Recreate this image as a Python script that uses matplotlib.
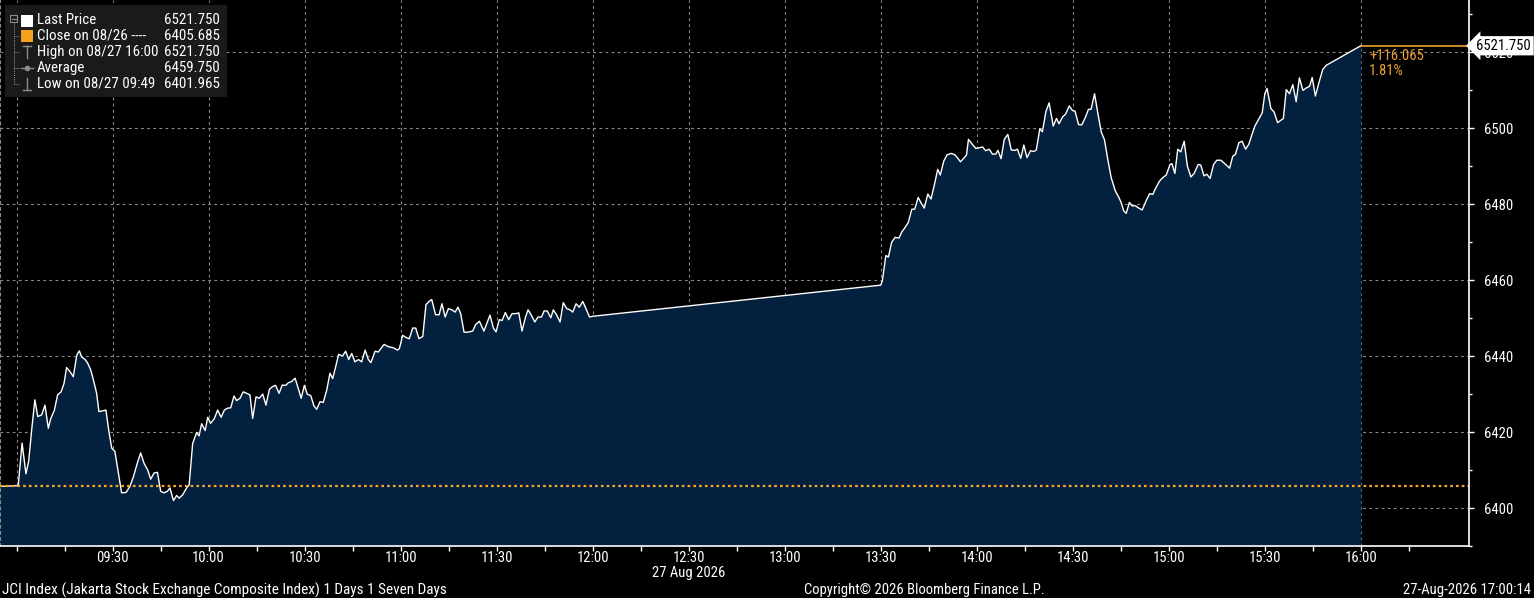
import matplotlib
matplotlib.use("Agg")
import numpy as np
import matplotlib.pyplot as plt
from matplotlib.transforms import blended_transform_factory
from matplotlib.patches import Rectangle

# JCI intraday, minutes after 09:00 and index level
morning_min = [-6, 0.5, 1.7, 2.9, 3.75, 4.7, 5.7, 6.6, 7.8, 8.85, 9.9, 10.6, 11.8, 12.8, 13.9,
               14.8, 15.6, 16.7, 17.7, 18.8, 19.6, 20.3, 21.4, 22.1, 23.1, 24.0, 25.0, 25.7,
               26.9, 27.9, 28.75, 29.7, 30.7, 31.8, 32.8, 34.2, 35.4, 36.5, 37.7, 38.75, 39.8,
               40.9, 41.9, 42.9, 44.0, 45.0, 46.0, 47.1, 47.9, 49.0, 50.0, 50.8, 51.9, 53.1,
               53.9, 55.0, 56.25, 57.0, 57.8, 58.9, 59.7, 60.6, 61.8, 62.8, 63.9, 64.9, 65.9,
               66.9, 67.9, 68.75, 69.8, 70.8, 71.9, 72.9, 73.75, 74.8, 75.8, 76.9, 77.9, 79.0,
               80.0, 80.9, 82.0, 83.0, 84.1, 84.9, 85.9, 87.0, 88.0, 88.9, 89.9, 90.8, 91.9,
               92.9, 93.75, 94.8, 95.8, 96.9, 97.9, 98.75, 99.8, 100.6, 101.8, 102.8, 103.75,
               104.7, 105.7, 106.8, 107.8, 108.9, 109.9, 110.7, 112.0, 113.0, 114.8, 116.1,
               117.7, 119.0, 119.6, 120.6, 121.7, 122.7, 123.75, 124.7, 125.7, 126.9, 127.9,
               129.0, 129.7, 130.9, 132.0, 132.9, 133.9, 134.9, 136.0, 137.0, 137.9, 138.75,
               139.8, 140.8, 142.5, 143.4, 144.6, 146.0, 146.9, 147.9, 149.0, 149.8, 150.8,
               151.7, 152.7, 153.75, 154.8, 156.0, 156.9, 157.9, 159.0, 159.8, 160.8, 161.9,
               162.9, 164.0, 164.8, 165.8, 166.9, 167.7, 168.75, 169.8, 170.8, 171.9, 172.9,
               173.75, 174.8, 175.8, 176.9, 177.9, 179.0, 180.0]
morning_px = [6405.685, 6405.9, 6417.1, 6409.0, 6412.3, 6420.6, 6428.5, 6424.1, 6424.5, 6427.1,
              6421.0, 6423.4, 6425.8, 6429.8, 6430.6, 6432.8, 6437.0, 6435.9, 6434.6, 6440.3,
              6441.4, 6439.8, 6439.1, 6438.3, 6436.5, 6433.7, 6430.2, 6425.4, 6425.6, 6425.8,
              6420.6, 6415.8, 6414.9, 6409.2, 6404.0, 6404.1, 6405.7, 6408.3, 6411.8, 6414.5,
              6411.8, 6410.1, 6407.6, 6409.2, 6409.4, 6404.4, 6404.0, 6404.4, 6405.3, 6401.965,
              6403.3, 6402.6, 6403.5, 6405.3, 6406.1, 6417.0, 6419.9, 6419.0, 6422.2, 6420.4,
              6423.9, 6422.3, 6423.6, 6425.8, 6423.9, 6425.8, 6426.3, 6426.4, 6429.5, 6428.3,
              6428.9, 6430.6, 6430.2, 6429.8, 6423.6, 6429.3, 6428.9, 6430.0, 6427.1, 6431.3,
              6432.0, 6432.3, 6430.2, 6432.4, 6432.3, 6433.0, 6433.3, 6434.2, 6431.5, 6428.9,
              6432.3, 6430.0, 6429.6, 6426.9, 6426.0, 6428.0, 6427.8, 6431.1, 6435.5, 6434.1,
              6437.6, 6440.5, 6440.0, 6441.3, 6439.1, 6440.7, 6438.5, 6439.1, 6438.5, 6441.6,
              6439.1, 6438.3, 6441.3, 6441.1, 6443.1, 6442.5, 6442.2, 6441.6, 6442.0, 6445.5,
              6444.9, 6444.6, 6447.4, 6447.4, 6444.6, 6445.2, 6453.6, 6454.5, 6454.9, 6450.9,
              6450.9, 6453.8, 6450.3, 6452.5, 6452.2, 6451.6, 6452.9, 6451.2, 6446.3, 6446.3,
              6446.6, 6448.3, 6449.2, 6446.6, 6448.6, 6450.8, 6447.3, 6446.4, 6449.6, 6449.4,
              6451.5, 6449.6, 6451.2, 6451.2, 6451.4, 6446.6, 6450.3, 6452.2, 6450.8, 6449.0,
              6450.3, 6450.3, 6451.9, 6451.9, 6450.1, 6452.2, 6450.8, 6449.0, 6454.1, 6452.5,
              6452.2, 6451.6, 6453.8, 6452.9, 6454.4, 6452.5, 6450.3, 6450.5]

afternoon_min = [270.0, 270.5, 271.6, 272.4, 273.4, 274.5, 275.7, 276.5, 277.6, 278.6, 279.7,
                 280.6, 281.7, 282.7, 283.6, 284.7, 285.7, 286.8, 287.8, 288.6, 289.7, 290.7,
                 292.0, 293.2, 294.1, 294.9, 295.9, 296.8, 297.4, 298.6, 299.7, 300.9, 301.8,
                 302.8, 303.9, 304.9, 305.9, 306.6, 307.6, 308.6, 309.7, 310.8, 311.9, 312.7,
                 313.75, 314.7, 315.7, 316.8, 317.8, 318.6, 319.7, 320.5, 321.6, 322.6, 323.9,
                 324.9, 325.7, 326.8, 327.8, 328.9, 329.9, 330.7, 331.8, 332.8, 333.9, 334.9,
                 335.7, 336.8, 337.8, 338.9, 339.9, 340.9, 342.0, 343.3, 344.4, 345.1, 345.9,
                 346.7, 347.7, 348.5, 349.6, 350.6, 351.7, 352.9, 354.0, 355.0, 356.0, 357.1,
                 358.1, 359.2, 360.4, 361.0, 361.9, 362.8, 363.75, 364.8, 365.8, 366.9, 367.9,
                 369.2, 370.0, 371.0, 371.9, 372.9, 374.0, 375.0, 376.25, 377.5, 379.0, 380.0,
                 380.8, 381.9, 382.9, 384.0, 385.0, 386.0, 386.9, 387.9, 389.2, 390.0, 390.7,
                 391.9, 392.9, 394.0, 395.0, 395.8, 396.7, 397.7, 398.75, 399.8, 400.8, 401.9,
                 402.9, 404.0, 404.8, 405.8, 406.9, 408.1, 409.2, 420.0]
afternoon_px = [6458.7, 6459.9, 6466.5, 6466.1, 6470.0, 6471.3, 6471.1, 6472.6, 6473.9, 6475.2,
                6478.7, 6478.7, 6481.8, 6480.2, 6479.0, 6482.7, 6481.4, 6485.3, 6489.2, 6487.7,
                6491.4, 6493.0, 6493.4, 6493.0, 6492.1, 6491.2, 6492.1, 6493.0, 6497.1, 6495.8,
                6494.7, 6494.9, 6495.1, 6494.1, 6494.5, 6493.2, 6493.2, 6494.2, 6492.0, 6497.1,
                6498.4, 6494.3, 6494.2, 6494.5, 6492.1, 6495.6, 6492.3, 6494.1, 6493.9, 6494.3,
                6499.9, 6499.1, 6504.4, 6506.7, 6500.6, 6502.6, 6501.2, 6503.0, 6503.8, 6505.9,
                6504.7, 6504.5, 6501.0, 6500.9, 6502.8, 6505.0, 6505.0, 6509.1, 6504.1, 6499.0,
                6497.0, 6492.0, 6487.0, 6483.5, 6481.8, 6480.5, 6478.3, 6477.6, 6480.5, 6479.6,
                6479.6, 6479.0, 6478.5, 6480.9, 6482.8, 6482.6, 6484.4, 6486.1, 6487.0, 6487.7,
                6490.5, 6490.7, 6488.1, 6494.5, 6493.8, 6496.6, 6490.1, 6487.2, 6488.1, 6490.5,
                6490.3, 6487.5, 6487.9, 6486.8, 6490.5, 6491.6, 6491.6, 6490.7, 6489.5, 6492.7,
                6493.1, 6496.2, 6496.6, 6494.5, 6495.8, 6498.4, 6500.6, 6502.1, 6504.1, 6509.1,
                6510.5, 6505.2, 6504.3, 6501.5, 6502.1, 6502.6, 6510.2, 6509.1, 6511.5, 6507.0,
                6513.3, 6510.0, 6510.6, 6511.1, 6513.4, 6508.5, 6512.0, 6515.5, 6516.6, 6521.75]

prev_close = 6405.685
last_price = 6521.750
high_price = 6521.750
avg_price = 6459.750
low_price = 6401.965

legend_rows = [
    ("Last Price", last_price),
    ("Close on 08/26 ----", prev_close),
    ("High on 08/27 16:00", high_price),
    ("Average", avg_price),
    ("Low on 08/27 09:49", low_price),
]

x_ticks = list(range(0, 421, 30))
x_labels = ["", "09:30", "10:00", "10:30", "11:00", "11:30", "12:00", "12:30\n27 Aug 2026",
            "13:00", "13:30", "14:00", "14:30", "15:00", "15:30", "16:00"]

plt.rcParams["font.family"] = ["Roboto Condensed", "DejaVu Sans"]

t = np.array(morning_min + afternoon_min)
p = np.array(morning_px + afternoon_px)

W, H = 1534, 598
fig = plt.figure(figsize=(W / 100, H / 100), dpi=100, facecolor="black")
ax = fig.add_axes([0, 52 / H, 1469 / W, 546 / H], facecolor="black")

ymin, ymax = 6390.1, 6533.8
xmin, xmax = -5.2, 453.8
ax.set_xlim(xmin, xmax)
ax.set_ylim(ymin, ymax)

ax.fill_between(t, p, ymin, color="#04203f", lw=0, zorder=2)
ax.plot(t, p, color="white", lw=1.0, zorder=4)

# previous close and last price lines
ax.axhline(prev_close, color="#f5a623", lw=1.6, ls=(0, (1.2, 1.4)), zorder=5)
ax.hlines(last_price, t[-1], xmax, color="#f0a030", lw=1.2, zorder=5)

chg = last_price - prev_close
pct = chg / prev_close * 100
ax.annotate(f"+{chg:.3f}\n{pct:.2f}%", (t[-1], last_price), xytext=(6, -2),
            textcoords="offset points", ha="left", va="top", color="#f0a030",
            fontsize=10.5, linespacing=1.1, zorder=6)

# grid and ticks
ax.set_xticks(x_ticks)
ax.set_xticklabels(x_labels)
ax.set_xticks(list(range(15, 436, 30)), minor=True)
ax.set_yticks(list(range(6400, 6521, 20)))
ax.set_yticks(list(range(6390, 6531, 10)), minor=True)
ax.grid(True, which="major", color="#8a8a8a", ls=(0, (2.5, 3)), lw=0.8, zorder=3)

ax.yaxis.tick_right()
ax.tick_params(axis="both", which="both", colors="white", direction="out", labelsize=10.5)
ax.tick_params(axis="x", which="both", length=3.6, width=1, pad=0)
ax.tick_params(axis="y", which="both", length=3.5, width=1, pad=7)
ax.tick_params(axis="y", which="minor", length=2.5)
for lab in ax.get_xticklabels():
    lab.set_linespacing(1.05)

ax.spines["top"].set_visible(False)
ax.spines["right"].set_color("white")
ax.spines["bottom"].set_color("white")
ax.spines["left"].set_color("#8a8a8a")
ax.spines["left"].set_linestyle((0, (2.5, 3)))
for s in ["right", "bottom"]:
    ax.spines[s].set_linewidth(1.2)
    ax.spines[s].set_zorder(6)

# last price box on right axis
tr = blended_transform_factory(ax.transAxes, ax.transData)
ax.text(1.005, last_price, f"{last_price:.3f}", transform=tr, ha="left", va="center",
        fontsize=10.5, color="black", clip_on=False, zorder=10,
        bbox=dict(boxstyle="larrow,pad=0.18", fc="white", ec="white", lw=0))

# overlay in pixel space for legend and footer
ov = fig.add_axes([0, 0, 1, 1], zorder=20)
ov.set_xlim(0, W)
ov.set_ylim(H, 0)
ov.axis("off")
ov.patch.set_alpha(0)

ov.add_patch(Rectangle((5, 5), 222, 92, fc="#1a1a1a", ec="none"))
gray = "#8c8c8c"
row_y = [20.5, 36, 52, 68, 84]
ov.add_patch(Rectangle((10, 15), 7, 7, fc="none", ec=gray, lw=0.8))
ov.plot([11.5, 15.5], [18.5, 18.5], color=gray, lw=0.8)
ov.plot([13.5, 13.5], [22, 84], color=gray, lw=0.7, ls=(0, (1, 1)))
for y in row_y[1:]:
    ov.plot([13.5, 19], [y, y], color=gray, lw=0.7, ls=(0, (1, 1)))
ov.add_patch(Rectangle((21, row_y[0] - 6), 12, 12, fc="white", ec="none"))
ov.add_patch(Rectangle((21, row_y[1] - 6), 12, 12, fc="#f5a020", ec="none"))
ov.plot([23, 31], [row_y[2] - 6, row_y[2] - 6], color=gray, lw=1)
ov.plot([27, 27], [row_y[2] - 6, row_y[2] + 6], color=gray, lw=1)
ov.plot([21, 33], [row_y[3], row_y[3]], color=gray, lw=1)
ov.plot([27], [row_y[3]], "o", color=gray, ms=3)
ov.plot([27, 27], [row_y[4] - 6, row_y[4] + 6], color=gray, lw=1)
ov.plot([23, 31], [row_y[4] + 6, row_y[4] + 6], color=gray, lw=1)
for (name, val), y in zip(legend_rows, row_y):
    ov.text(37, y, name, color="white", fontsize=10.8, ha="left", va="center")
    ov.text(220, y, f"{val:.3f}", color="white", fontsize=10.8, ha="right", va="center")

ov.text(2, 590, "JCI Index (Jakarta Stock Exchange Composite Index) 1 Days 1 Seven Days",
        color="white", fontsize=11, ha="left", va="center")
ov.text(804, 590, "Copyright\u00a9 2026 Bloomberg Finance L.P.", color="white", fontsize=10.5,
        ha="left", va="center")
ov.text(1531, 590, "27-Aug-2026 17:00:14", color="white", fontsize=10.5, ha="right",
        va="center")

fig.savefig("out.png", dpi=100, facecolor="black")
